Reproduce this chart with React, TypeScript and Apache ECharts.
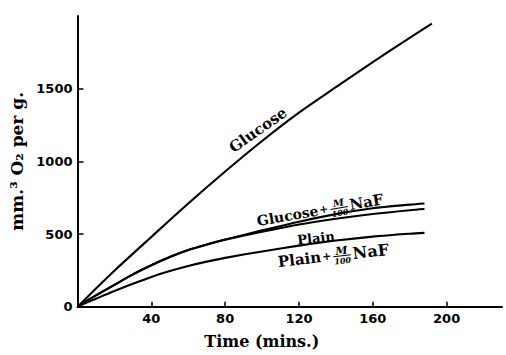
import React, { useEffect, useRef } from "react";
import * as echarts from "echarts";

// ---- data ----
const glucoseTime = [0, 10, 20, 40, 60, 80, 100, 120, 140, 160, 180, 192];
const glucoseVals = [0, 125, 248, 480, 710, 930, 1140, 1335, 1510, 1682, 1850, 1948];

const glcNaFTime = [0, 5, 10, 20, 30, 40, 50, 60, 70, 80, 100, 120, 140, 160, 180, 188];
const glcNaFVals = [0, 40, 78, 150, 222, 285, 342, 390, 428, 462, 525, 585, 637, 677, 702, 710];

const plainTime = [0, 5, 10, 20, 30, 40, 50, 60, 70, 80, 100, 120, 140, 160, 180, 188];
const plainVals = [0, 40, 78, 150, 222, 285, 342, 390, 427, 460, 515, 565, 605, 638, 664, 672];

const plainNaFTime = [0, 5, 10, 20, 30, 40, 50, 60, 70, 80, 100, 120, 140, 160, 180, 188];
const plainNaFVals = [0, 28, 55, 108, 158, 205, 245, 280, 310, 336, 380, 420, 455, 482, 502, 508];

const xTickValues = [40, 80, 120, 160, 200];
const yTickValues = [500, 1000, 1500];
const yLabelValues = [0, 500, 1000, 1500];

const pair = (t: number[], v: number[]) => t.map((x, i) => [x, v[i]]);

const SERIF = "'DejaVu Serif', 'Liberation Serif', serif";
const SANS = "'DejaVu Sans', 'Liberation Sans', sans-serif";

let ctx2d: CanvasRenderingContext2D | null = null;
function measure(text: string, size: number, weight = "bold", style = "normal") {
  if (!ctx2d) ctx2d = document.createElement("canvas").getContext("2d");
  if (!ctx2d) return text.length * size * 0.6;
  ctx2d.font = `${style} ${weight} ${size}px ${SERIF}`;
  return ctx2d.measureText(text).width;
}

function fractionLabel(
  x: number,
  y: number,
  angleDeg: number,
  word: string,
  wordSize: number,
  nafSize: number
) {
  const children: any[] = [];
  let cx = 0;
  const wWord = measure(word, wordSize);
  children.push({
    type: "text",
    x: cx,
    y: 0,
    style: { text: word, font: `bold ${wordSize}px ${SERIF}`, fill: "#000", align: "left", verticalAlign: "middle" },
  });
  cx += wWord + 1;
  const plusSize = Math.round(wordSize * 0.75);
  const wPlus = measure("+", plusSize);
  children.push({
    type: "text",
    x: cx,
    y: 0,
    style: { text: "+", font: `bold ${plusSize}px ${SERIF}`, fill: "#000", align: "left", verticalAlign: "middle" },
  });
  cx += wPlus + 2;
  const mSize = Math.round(wordSize * 0.72);
  const dSize = Math.round(wordSize * 0.55);
  const fw = Math.max(measure("M", mSize, "bold", "italic"), measure("100", dSize, "bold", "italic")) + 1;
  children.push({
    type: "text",
    x: cx + fw / 2,
    y: -4,
    style: { text: "M", font: `italic bold ${mSize}px ${SERIF}`, fill: "#000", align: "center", verticalAlign: "middle" },
  });
  children.push({
    type: "line",
    shape: { x1: cx, y1: 1, x2: cx + fw, y2: 1 },
    style: { stroke: "#000", lineWidth: 1 },
  });
  children.push({
    type: "text",
    x: cx + fw / 2,
    y: 6,
    style: { text: "100", font: `italic bold ${dSize}px ${SERIF}`, fill: "#000", align: "center", verticalAlign: "middle" },
  });
  cx += fw + 2;
  children.push({
    type: "text",
    x: cx,
    y: 0,
    style: { text: "NaF", font: `bold ${nafSize}px ${SERIF}`, fill: "#000", align: "left", verticalAlign: "middle" },
  });
  return {
    type: "group",
    x,
    y,
    rotation: (angleDeg * Math.PI) / 180,
    children,
  };
}

function lineSeries(name: string, data: number[][]) {
  return {
    name,
    type: "line",
    data,
    smooth: 0.3,
    showSymbol: false,
    symbol: "none",
    lineStyle: { color: "#000", width: 2.1 },
    itemStyle: { color: "#000" },
    emphasis: { disabled: true },
  };
}

export default function App() {
  const ref = useRef<HTMLDivElement>(null);
  useEffect(() => {
    if (!ref.current) return;
    const chart = echarts.init(ref.current, undefined, { renderer: "svg" });
    chart.setOption({
      animation: false,
      backgroundColor: "#fff",
      grid: { left: 77.5, top: 16, right: 4, bottom: 48.3, containLabel: false, outerBoundsMode: "none" },
      xAxis: {
        type: "value",
        min: 0,
        max: 230,
        interval: 40,
        name: "Time (mins.)",
        nameLocation: "middle",
        nameGap: 27,
        nameTextStyle: {
          fontFamily: SERIF,
          fontWeight: "bold",
          fontSize: 16,
          color: "#000",
          padding: [0, 56, 0, 0],
        },
        axisLine: { show: true, lineStyle: { color: "#000", width: 2 } },
        axisTick: { show: true, inside: true, length: 5, customValues: xTickValues, lineStyle: { color: "#000", width: 1.5 } },
        axisLabel: {
          customValues: xTickValues,
          formatter: (v: number) => String(v),
          margin: 5,
          fontFamily: SANS,
          fontWeight: "bold",
          fontSize: 13,
          color: "#000",
        },
        splitLine: { show: false },
      },
      yAxis: {
        type: "value",
        min: 0,
        max: 2000,
        interval: 500,
        name: "mm.³ O₂ per g.",
        nameLocation: "middle",
        nameGap: 45,
        nameTextStyle: { fontFamily: SERIF, fontWeight: "bold", fontSize: 17, color: "#000" },
        axisLine: { show: true, lineStyle: { color: "#000", width: 2 } },
        axisTick: { show: true, inside: true, length: 6, customValues: yTickValues, lineStyle: { color: "#000", width: 1.5 } },
        axisLabel: {
          customValues: yLabelValues,
          formatter: (v: number) => String(v),
          margin: 5,
          fontFamily: SANS,
          fontWeight: "bold",
          fontSize: 13,
          color: "#000",
        },
        splitLine: { show: false },
      },
      series: [
        lineSeries("Glucose", pair(glucoseTime, glucoseVals)),
        lineSeries("Glucose + M/100 NaF", pair(glcNaFTime, glcNaFVals)),
        lineSeries("Plain", pair(plainTime, plainVals)),
        lineSeries("Plain + M/100 NaF", pair(plainNaFTime, plainNaFVals)),
      ],
      graphic: [
        {
          type: "text",
          x: 258,
          y: 130,
          rotation: (35 * Math.PI) / 180,
          style: { text: "Glucose", font: `bold 15px ${SERIF}`, fill: "#000", align: "center", verticalAlign: "middle" },
        },
        fractionLabel(257, 221, 9.75, "Glucose", 14, 15),
        {
          type: "text",
          x: 316,
          y: 238,
          rotation: (6 * Math.PI) / 180,
          style: { text: "Plain", font: `bold 13px ${SERIF}`, fill: "#000", align: "center", verticalAlign: "middle" },
        },
        fractionLabel(278, 262, 6.5, "Plain", 15, 16),
      ],
    });
    return () => chart.dispose();
  }, []);
  return <div ref={ref} style={{ position: "fixed", left: 0, top: 0, width: 506, height: 355 }} />;
}
